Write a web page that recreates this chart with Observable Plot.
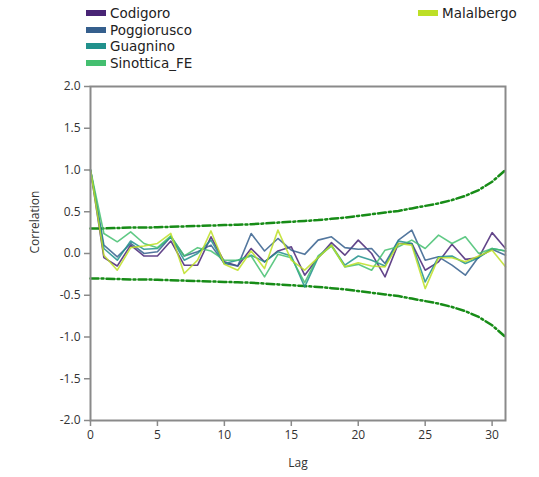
<!DOCTYPE html>
<html><head><meta charset="utf-8">
<script src="https://cdn.jsdelivr.net/npm/d3@7"></script>
<script src="https://cdn.jsdelivr.net/npm/@observablehq/plot@0.6"></script>
<style>
body{margin:0;background:#fff;}
#wrap{position:relative;width:539px;height:477px;font-family:"Open Sans",sans-serif;overflow:hidden;}
#chart{position:absolute;left:0;top:0;}
#legend{position:absolute;left:0;top:0;width:539px;height:80px;}
.item{position:absolute;display:flex;align-items:center;font-family:"DejaVu Sans",sans-serif;font-size:13.5px;color:#222;line-height:14px;height:14px;white-space:nowrap;}
.item span{display:block;height:14px;line-height:14px;}
.sw{width:20px;height:6px;margin-right:4px;}
</style></head><body>
<div id="wrap"><div id="chart"></div><div id="legend"></div></div>
<script>
const lags = [0,1,2,3,4,5,6,7,8,9,10,11,12,13,14,15,16,17,18,19,20,21,22,23,24,25,26,27,28,29,30,31];
const seriesNames = ["Codigoro","Poggiorusco","Guagnino","Sinottica_FE","Malalbergo"];
const seriesColors = ["#482475","#355f8d","#21918c","#44bf70","#bddf26"];

const codigoro    = [1.0,-0.05,-0.15,0.10,-0.03,-0.03,0.15,-0.14,-0.14,0.20,-0.10,-0.15,0.06,-0.10,0.03,0.08,-0.26,-0.05,0.13,-0.02,0.16,0.00,-0.28,0.12,0.12,-0.20,-0.10,0.11,-0.07,-0.05,0.25,0.06];
const poggiorusco = [1.0,0.10,-0.04,0.12,0.00,0.02,0.20,-0.03,0.02,0.10,-0.12,-0.15,0.24,0.03,0.18,0.04,-0.01,0.16,0.20,0.07,0.05,0.06,-0.12,0.16,0.28,-0.08,-0.04,-0.14,-0.26,-0.04,0.05,-0.02];
const guagnino    = [1.0,0.06,-0.08,0.15,0.05,0.06,0.20,-0.08,0.00,0.16,-0.12,-0.08,-0.02,-0.10,0.02,-0.03,-0.40,-0.05,0.10,-0.14,-0.03,-0.08,-0.15,0.15,0.12,-0.34,-0.04,-0.03,-0.12,-0.05,0.06,0.03];
const sinottica   = [1.0,0.24,0.14,0.26,0.12,0.07,0.21,-0.03,0.07,0.03,-0.08,-0.08,-0.03,-0.28,-0.01,-0.05,-0.35,-0.03,0.09,-0.16,-0.13,-0.20,0.04,0.08,0.16,0.06,0.22,0.12,0.20,0.00,0.06,0.03];
const malalbergo  = [1.0,-0.02,-0.20,0.07,0.09,0.12,0.24,-0.24,-0.08,0.27,-0.13,-0.20,0.03,-0.18,0.28,-0.08,-0.20,-0.05,0.10,-0.16,-0.11,-0.15,-0.16,0.12,0.10,-0.42,-0.05,-0.05,-0.10,-0.03,0.04,-0.16];
const seriesValues = [codigoro, poggiorusco, guagnino, sinottica, malalbergo];

const upperBound = [0.30,0.30,0.305,0.31,0.31,0.315,0.32,0.325,0.33,0.335,0.34,0.345,0.35,0.36,0.37,0.38,0.39,0.40,0.415,0.43,0.45,0.47,0.49,0.51,0.54,0.57,0.60,0.64,0.69,0.76,0.86,1.00];
const lowerBound = [-0.30,-0.30,-0.305,-0.31,-0.31,-0.315,-0.32,-0.325,-0.33,-0.335,-0.34,-0.345,-0.35,-0.36,-0.37,-0.38,-0.39,-0.40,-0.415,-0.43,-0.45,-0.47,-0.49,-0.51,-0.54,-0.57,-0.60,-0.64,-0.69,-0.76,-0.86,-1.00];

const xTicks = [0,5,10,15,20,25,30];
const yTicks = [-2.0,-1.5,-1.0,-0.5,0.0,0.5,1.0,1.5,2.0];

const rows = [];
seriesNames.forEach((name, i) => lags.forEach((lag, j) => rows.push({series: name, lag, value: seriesValues[i][j]})));
const upperRows = lags.map((lag, j) => ({lag, value: upperBound[j]}));
const lowerRows = lags.map((lag, j) => ({lag, value: lowerBound[j]}));

const green = "#178c17";
const dash = "8,3,2,3";

const chart = Plot.plot({
  width: 539, height: 477,
  marginTop: 86, marginBottom: 57, marginLeft: 90, marginRight: 34,
  style: {fontFamily: '"Open Sans", sans-serif', fontSize: "12px", color: "#333", background: "white"},
  x: {domain: [0, 31]},
  y: {domain: [-2, 2]},
  color: {domain: seriesNames, range: seriesColors},
  marks: [
    Plot.line(upperRows, {x: "lag", y: "value", stroke: green, strokeWidth: 2.5, strokeDasharray: dash}),
    Plot.line(lowerRows, {x: "lag", y: "value", stroke: green, strokeWidth: 2.5, strokeDasharray: dash}),
    Plot.line(rows, {x: "lag", y: "value", z: "series", stroke: "series", strokeWidth: 1.6, strokeOpacity: 0.85}),
    Plot.frame({stroke: "#8a8a8a", strokeWidth: 2}),
    Plot.axisX({ticks: xTicks, tickSize: 6, tickPadding: 4, stroke: "#8a8a8a", strokeWidth: 1.5, label: null, tickFormat: d => String(d)}),
    Plot.axisY({ticks: yTicks, tickSize: 6, tickPadding: 4, stroke: "#8a8a8a", strokeWidth: 1.5, label: null, tickFormat: d => d.toFixed(1)}),
    Plot.text(["Lag"], {frameAnchor: "bottom", dy: 46, text: d => d, fontSize: 12, fill: "#333"}),
    Plot.text(["Correlation"], {frameAnchor: "left", dx: -55, rotate: -90, text: d => d, fontSize: 12, fill: "#333"})
  ]
});
document.getElementById("chart").appendChild(chart);

const legendPos = [[86, 13], [86, 29.7], [86, 46.3], [86, 63], [418, 13]];
const legend = document.getElementById("legend");
seriesNames.forEach((name, i) => {
  const it = document.createElement("div");
  it.className = "item";
  it.style.left = legendPos[i][0] + "px";
  it.style.top = (legendPos[i][1] - 7) + "px";
  const sw = document.createElement("div");
  sw.className = "sw";
  sw.style.background = seriesColors[i];
  const tx = document.createElement("span");
  tx.textContent = name;
  it.appendChild(sw); it.appendChild(tx);
  legend.appendChild(it);
});
</script>
</body></html>
